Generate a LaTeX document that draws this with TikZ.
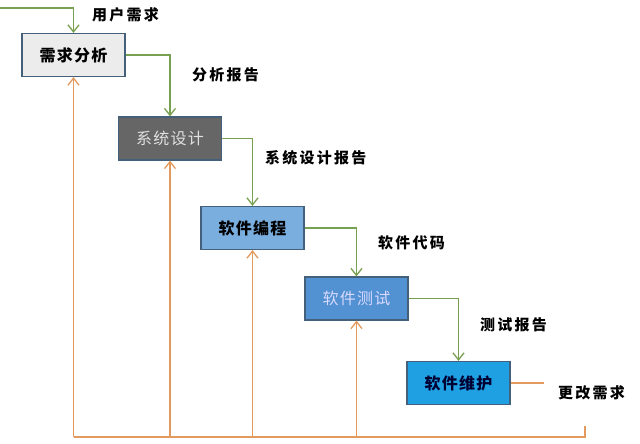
\documentclass[tikz,border=0pt]{standalone}
\usepackage{fontspec}
\usepackage{tikz}
\usetikzlibrary{arrows.meta, positioning, calc}
\newfontfamily\cjk[LetterSpace=8]{Noto Sans CJK SC}
\newfontfamily\cjktag[LetterSpace=15]{Noto Sans CJK SC}
\definecolor{flowgreen}{HTML}{77A050}
\definecolor{backorange}{HTML}{E39A5E}
\definecolor{boxedge}{HTML}{44607A}

\begin{document}
\begin{tikzpicture}[x=1pt, y=-1pt,
        block/.style={draw=boxedge, line width=1.2pt, rectangle, minimum width=103pt, minimum height=43pt, align=center, font=\cjk\fontsize{16}{19}\selectfont\bfseries, inner sep=0pt},
        tag/.style={anchor=west, font=\cjktag\fontsize{15}{18}\selectfont\bfseries, inner sep=0pt},
        arrow/.style={flowgreen, line width=1.3pt, -{Straight Barb[length=7pt, width=11pt]}},
        back/.style={backorange, line width=1.3pt, -{Straight Barb[length=7pt, width=11pt]}},
        backline/.style={backorange, line width=1.3pt}
    ]
        \useasboundingbox (0,0) rectangle (640,444);

        % Blocks
        \node[block, fill=gray!15] (req) at (73.5,55) {需求分析};
        \node[block, fill=black!60, text=white!88!black, font=\cjk\fontsize{16}{19}\selectfont] (sys) at (170,138.5) {系统设计};
        \node[block, fill={rgb,255:red,122;green,174;blue,222}] (code) at (252.5,228) {软件编程};
        \node[block, fill={rgb,255:red,82;green,145;blue,210}, text=white!85!blue, font=\cjk\fontsize{16}{19}\selectfont] (test) at (356.5,298.5) {软件测试};
        \node[block, fill={rgb,255:red,30;green,160;blue,226}, text=black!80!blue] (keep) at (458.5,383) {软件维护};

        % Labels
        \node[tag] (userreq) at (92,15) {用户需求};
        \node[tag] (anarep) at (192,75) {分析报告};
        \node[tag] (sysrep) at (265,158) {系统设计报告};
        \node[tag] (srccode) at (378,243) {软件代码};
        \node[tag] (testrep) at (480,325) {测试报告};
        \node[tag] (change) at (558,393) {更改需求};

        % Arrows
        \coordinate (start) at (0,8);
        \draw[arrow] (start) -| (req.north);
        \draw[arrow] (req.east) -| (sys.north);
        \draw[arrow] (sys.east) -| (code.north);
        \draw[arrow] (code.east) -| (test.north);
        \draw[arrow] (test.east) -| (keep.north);

        % Feedback
        \coordinate (chend) at (544,383);
        \coordinate (bright) at (585,426);
        \coordinate (bleft) at (73.5,437);
        \draw[backline] (keep.east) -- (chend);
        \draw[backline] (bright) |- (bleft);
        \draw[back] (bleft) -- (req.south);
        \draw[back] (sys.south |- bleft) -- (sys.south);
        \draw[back] (code.south |- bleft) -- (code.south);
        \draw[back] (test.south |- bleft) -- (test.south);
    \end{tikzpicture}
\end{document}
